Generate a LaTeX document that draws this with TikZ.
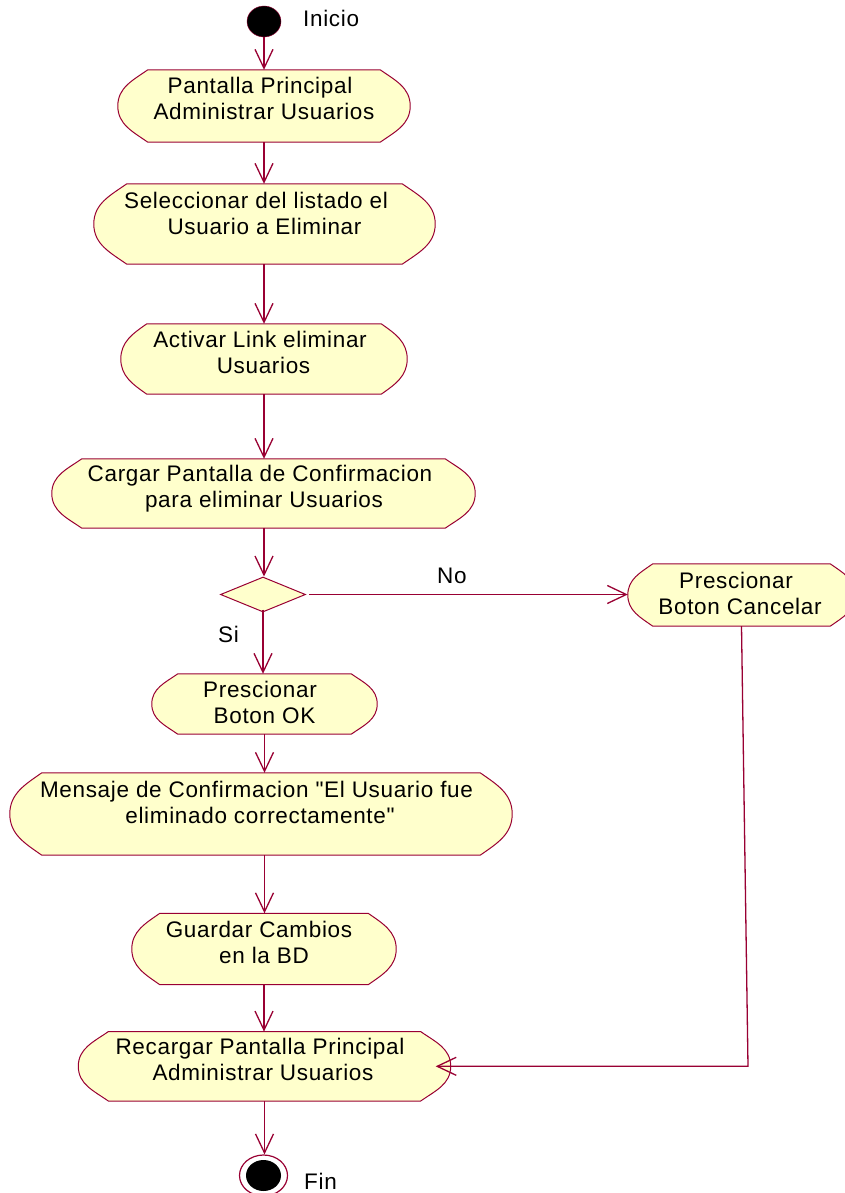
\documentclass[tikz,border=0pt]{standalone}
\usepackage{fontspec}
\newfontfamily\lsans{Liberation Sans}[LetterSpace=3]
\usetikzlibrary{shapes.geometric,arrows.meta,calc}
\definecolor{umlline}{HTML}{990033}
\definecolor{umlfill}{HTML}{FFFFCC}
\newcommand{\tsp}[1]{\rule{#1}{0pt}}
\newcommand{\actoutline}[2]{%
  \filldraw[actline] ([xshift=#2]#1.north west) -- ([xshift=-#2]#1.north east)
    to[out=-35,in=90] (#1.east) to[out=-90,in=35] ([xshift=-#2]#1.south east)
    -- ([xshift=#2]#1.south west) to[out=145,in=-90] (#1.west)
    to[out=90,in=215] ([xshift=#2]#1.north west) -- cycle;}
\begin{document}
\begin{tikzpicture}[x=1pt,y=-1pt,
  act/.style={rectangle, draw=none, inner sep=0pt},
  actline/.style={draw=umlline, fill=umlfill, line width=1pt, line join=miter},
  txt/.style={align=center, font=\lsans\fontsize{22.5}{26}\selectfont, inner sep=0pt, text height=42.1pt, text depth=0pt},
  lbl/.style={font=\lsans\fontsize{22.5}{26}\selectfont, inner sep=0pt, anchor=base west},
  flow/.style={draw=umlline, line width=1.3pt, -{Straight Barb[length=19pt,width=18pt]}},
]
\clip (0,0) rectangle (845,1193);
\fill[white] (0,0) rectangle (845,1193);

% start
\node[ellipse, fill=black, draw=umlline, minimum width=34pt, minimum height=31pt, inner sep=0pt] (ini) at (264,21.5) {};
\node[lbl] (linicio) at (303,26.7) {Inicio};

% activities
\node[act, minimum width=292pt, minimum height=72pt] (b1) at (264,106) {};
\actoutline{b1}{30pt}
\node[txt] (b1t) at (264,98.8) {Pantalla Principal\tsp{8pt}\\Administrar Usuarios};

\node[act, minimum width=341pt, minimum height=80pt] (b2) at (264.5,224) {};
\actoutline{b2}{33pt}
\node[txt] (b2t) at (264.5,213) {Seleccionar del listado el\tsp{17pt}\\Usuario a Eliminar};

\node[act, minimum width=286pt, minimum height=70pt] (b3) at (264,359) {};
\actoutline{b3}{26pt}
\node[txt] (b3t) at (263.5,352.2) {Activar Link eliminar\tsp{7pt}\\Usuarios};

\node[act, minimum width=423pt, minimum height=69pt] (b4) at (263.5,493.5) {};
\actoutline{b4}{30pt}
\node[txt] (b4t) at (264,486.7) {Cargar Pantalla de Confirmacion\tsp{8pt}\\para eliminar Usuarios};

% decision
\node[diamond, draw=umlline, fill=umlfill, line width=1pt, minimum width=85pt, minimum height=35pt, inner sep=0pt] (dec) at (263,594.5) {};
\node[lbl] (lno) at (437,583.3) {No};
\node[lbl] (lsi) at (218,642.3) {Si};

\node[act, minimum width=227pt, minimum height=62pt] (can) at (741.5,595) {};
\actoutline{can}{25pt}
\node[txt] (cant) at (740,593.3) {Prescionar\tsp{8pt}\\Boton Cancelar};

\node[act, minimum width=225pt, minimum height=60pt] (ok) at (264.5,704) {};
\actoutline{ok}{26pt}
\node[txt] (okt) at (264.5,702.5) {Prescionar\tsp{9pt}\\Boton OK};

\node[act, minimum width=502pt, minimum height=82pt] (msg) at (261,814) {};
\actoutline{msg}{32pt}
\node[txt] (msgt) at (260,802.8) {Mensaje de Confirmacion "El Usuario fue\tsp{7pt}\\eliminado correctamente"};

\node[act, minimum width=264pt, minimum height=71pt] (gua) at (264,949) {};
\actoutline{gua}{28pt}
\node[txt] (guat) at (264,942) {Guardar Cambios\tsp{10pt}\\en la BD};

\node[act, minimum width=372pt, minimum height=69pt] (rec) at (264.5,1066.3) {};
\actoutline{rec}{30pt}
\node[txt] (rect) at (263,1059.5) {Recargar Pantalla Principal\tsp{6pt}\\Administrar Usuarios};

% end
\node[ellipse, draw=umlline, fill=white, line width=1.2pt, minimum width=48pt, minimum height=41pt, inner sep=0pt] (fin) at (263.5,1175.5) {};
\node[ellipse, fill=black, minimum width=35pt, minimum height=31pt, inner sep=0pt] (finin) at (fin.center) {};
\node[lbl] (lfin) at (304,1189) {Fin};

% connectors
\draw[flow] (ini.south) -- (ini.south |- b1.north);
\draw[flow] (b1.south) -- (b1.south |- b2.north);
\draw[flow] ([xshift=-0.5pt]b2.south) -- ([xshift=-0.5pt]b2.south |- b3.north);
\draw[flow] (b3.south) -- (b3.south |- b4.north);
\draw[flow] ([xshift=0.5pt]b4.south) -- ([xshift=0.5pt]b4.south |- dec.north);
\draw[flow] ([xshift=3pt]dec.east) -- (dec.east -| can.west);
\draw[flow] ([yshift=3pt]dec.south) -- (dec.south |- ok.north);
\draw[flow] (ok.south) -- (ok.south |- msg.north);
\draw[flow] (ok.south |- msg.south) -- (ok.south |- gua.north);
\draw[flow] (gua.south) -- (gua.south |- rec.north);
\draw[flow] (rec.south) -- (rec.south |- fin.north);
\coordinate (corner) at ($(can.south |- rec.east)+(6.5,0)$);
\draw[flow] (can.south) -- (corner) -- ([xshift=-15pt]rec.east);
\end{tikzpicture}
\end{document}
